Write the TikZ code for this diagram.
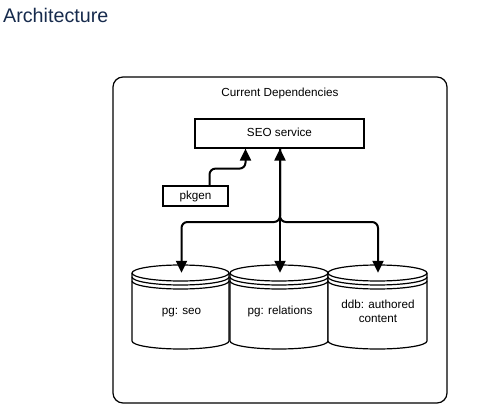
\documentclass[tikz,border=0pt]{standalone}
\usepackage{fontspec}
\setmainfont{Liberation Sans}
\usetikzlibrary{arrows.meta,calc}
\definecolor{titlecol}{HTML}{172B4D}
\tikzset{
  boxline/.style={draw=black,line width=1.2pt},
  lbl/.style={font=\fontsize{11.7}{14}\selectfont,align=center},
  oneline/.style={text height=8.6pt,text depth=2.6pt},
  plainbox/.style={boxline,fill=white,lbl,oneline,inner sep=0pt},
  dbnode/.style={lbl,inner sep=0pt,minimum width=97pt,minimum height=76pt},
  arr/.style={line width=2pt,-{Triangle[length=12pt,width=11pt]}},
  dblarr/.style={line width=2pt,{Triangle[length=12pt,width=11pt]}-{Triangle[length=12pt,width=11pt]}},
}
\newcommand\dbcyl[2]{% left, right
  \pgfmathsetmacro\rxx{(#2-#1)/2}
  \draw[boxline,fill=white] (#1,-273) -- (#1,-341) arc[start angle=180,end angle=360,x radius=\rxx pt,y radius=8pt]
     -- (#2,-273) arc[start angle=0,end angle=180,x radius=\rxx pt,y radius=8pt] -- cycle;
  \draw[boxline] (#1,-273) arc[start angle=180,end angle=360,x radius=\rxx pt,y radius=8pt];
  \draw[boxline] (#1,-277) arc[start angle=180,end angle=360,x radius=\rxx pt,y radius=8pt];
  \draw[boxline] (#1,-281) arc[start angle=180,end angle=360,x radius=\rxx pt,y radius=8pt];
}
\begin{document}
\begin{tikzpicture}[x=1pt,y=1pt]
\useasboundingbox (0,0) rectangle (496,-420);
\node[anchor=base west,inner sep=0pt,text=titlecol,font=\fontsize{19.7}{23}\selectfont] (title) at (3,-23) {Architecture};
\node[boxline,rounded corners=10pt,minimum width=334pt,minimum height=326pt,inner sep=0pt] (frame) at (280,-240) {};
\node[lbl,oneline,inner sep=0pt] (framelbl) at (280,-93) {Current Dependencies};
\node[plainbox,minimum width=169pt,minimum height=29pt] (seo) at (279.5,-133.5) {SEO service};
\node[plainbox,minimum width=65pt,minimum height=20pt] (pkgen) at (195.5,-196) {pkgen};
\dbcyl{132}{229}
\dbcyl{230}{328}
\dbcyl{328}{427}
\node[dbnode,oneline] (db1) at (181.5,-311) {pg: seo};
\node[dbnode,oneline] (db2) at (280,-311) {pg: relations};
\node[dbnode] (db3) at (378,-311) {ddb: authored\\content};
\coordinate (j) at (280,-222);
\draw[arr,rounded corners=6pt] ([xshift=14pt]pkgen.north) |- ([xshift=-34pt,yshift=-20pt]seo.south) -- ([xshift=-34pt]seo.south);
\draw[arr,rounded corners=6pt] (seo.south -| j) -- (j) -| (db1.north);
\draw[arr,rounded corners=6pt] (seo.south -| j) -- (j) -| (db3.north);
\draw[dblarr] (seo.south -| j) -- (db2.north);
\end{tikzpicture}
\end{document}
